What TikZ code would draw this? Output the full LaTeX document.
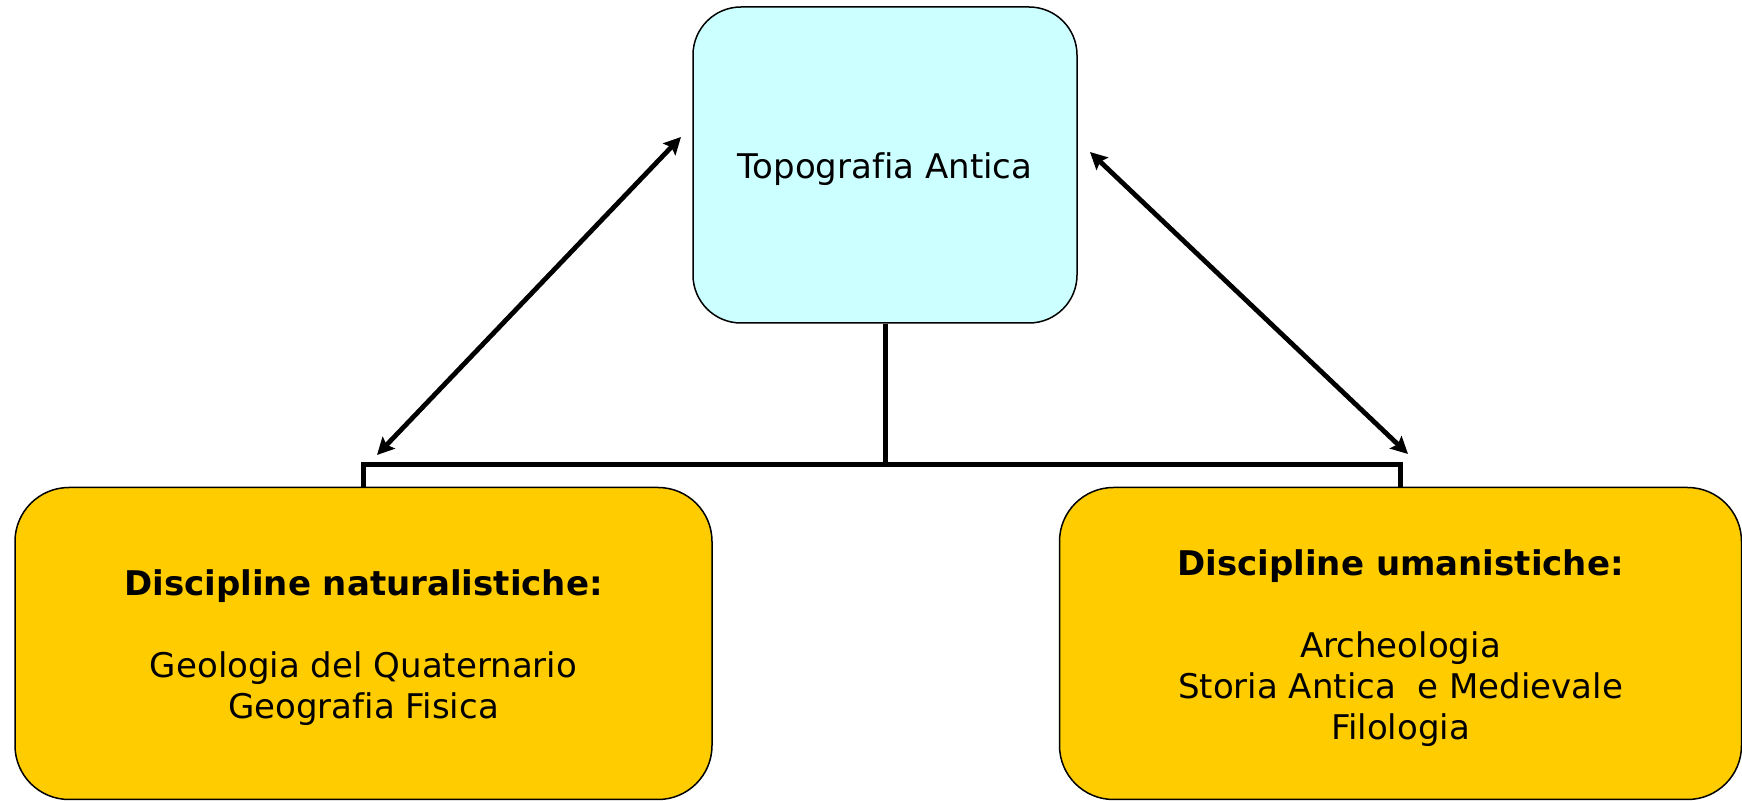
\documentclass[tikz,border=0pt]{standalone}
\usepackage{fontspec}
\setmainfont[Ligatures=NoCommon]{DejaVu Sans}
\usetikzlibrary{arrows.meta}
\definecolor{topfill}{HTML}{CCFFFF}
\definecolor{subfill}{HTML}{FFCC00}
\begin{document}
\begin{tikzpicture}[x=0.5pt,y=-0.5pt,
  box/.style={draw=black, line width=0.75pt, inner sep=0pt},
  txt/.style={align=center, inner sep=0pt, yshift=-2.2pt, font=\fontsize{17}{20.5}\selectfont},
  topbox/.style={box, fill=topfill, rounded corners=24pt, minimum width=192pt, minimum height=158pt},
  subbox/.style={box, fill=subfill, rounded corners=27pt, minimum height=156pt},
  tree/.style={line width=2.5pt},
  link/.style={line width=2.4pt, {Stealth[length=8.5pt,width=8.5pt,inset=1.5pt]}-{Stealth[length=8.5pt,width=8.5pt,inset=1.5pt]}}
]
\useasboundingbox (0,0) rectangle (1742,801);
\node[topbox, label={[txt]center:Topografia Antica}] (top) at (885,165) {};
\node[subbox, minimum width=348.5pt,
  label={[txt]center:{\textbf{Discipline naturalistiche:}\\[20.5pt]Geologia del Quaternario\\Geografia Fisica}}] (left) at (363.5,643.5) {};
\node[subbox, minimum width=341pt,
  label={[txt]center:{\textbf{Discipline umanistiche:}\\[20.5pt]Archeologia\\Storia Antica~ e Medievale\\Filologia}}] (right) at (1400.5,643.5) {};
\coordinate (j) at (885,465);
\draw[tree] (top.south) -- (j);
\draw[tree] (left.north) |- (j) -| (right.north);
\coordinate (la) at (681,137);
\coordinate (lb) at (377,455);
\coordinate (ra) at (1090,152);
\coordinate (rb) at (1408,454);
\draw[link] (la) -- (lb);
\draw[link] (ra) -- (rb);
\end{tikzpicture}
\end{document}
